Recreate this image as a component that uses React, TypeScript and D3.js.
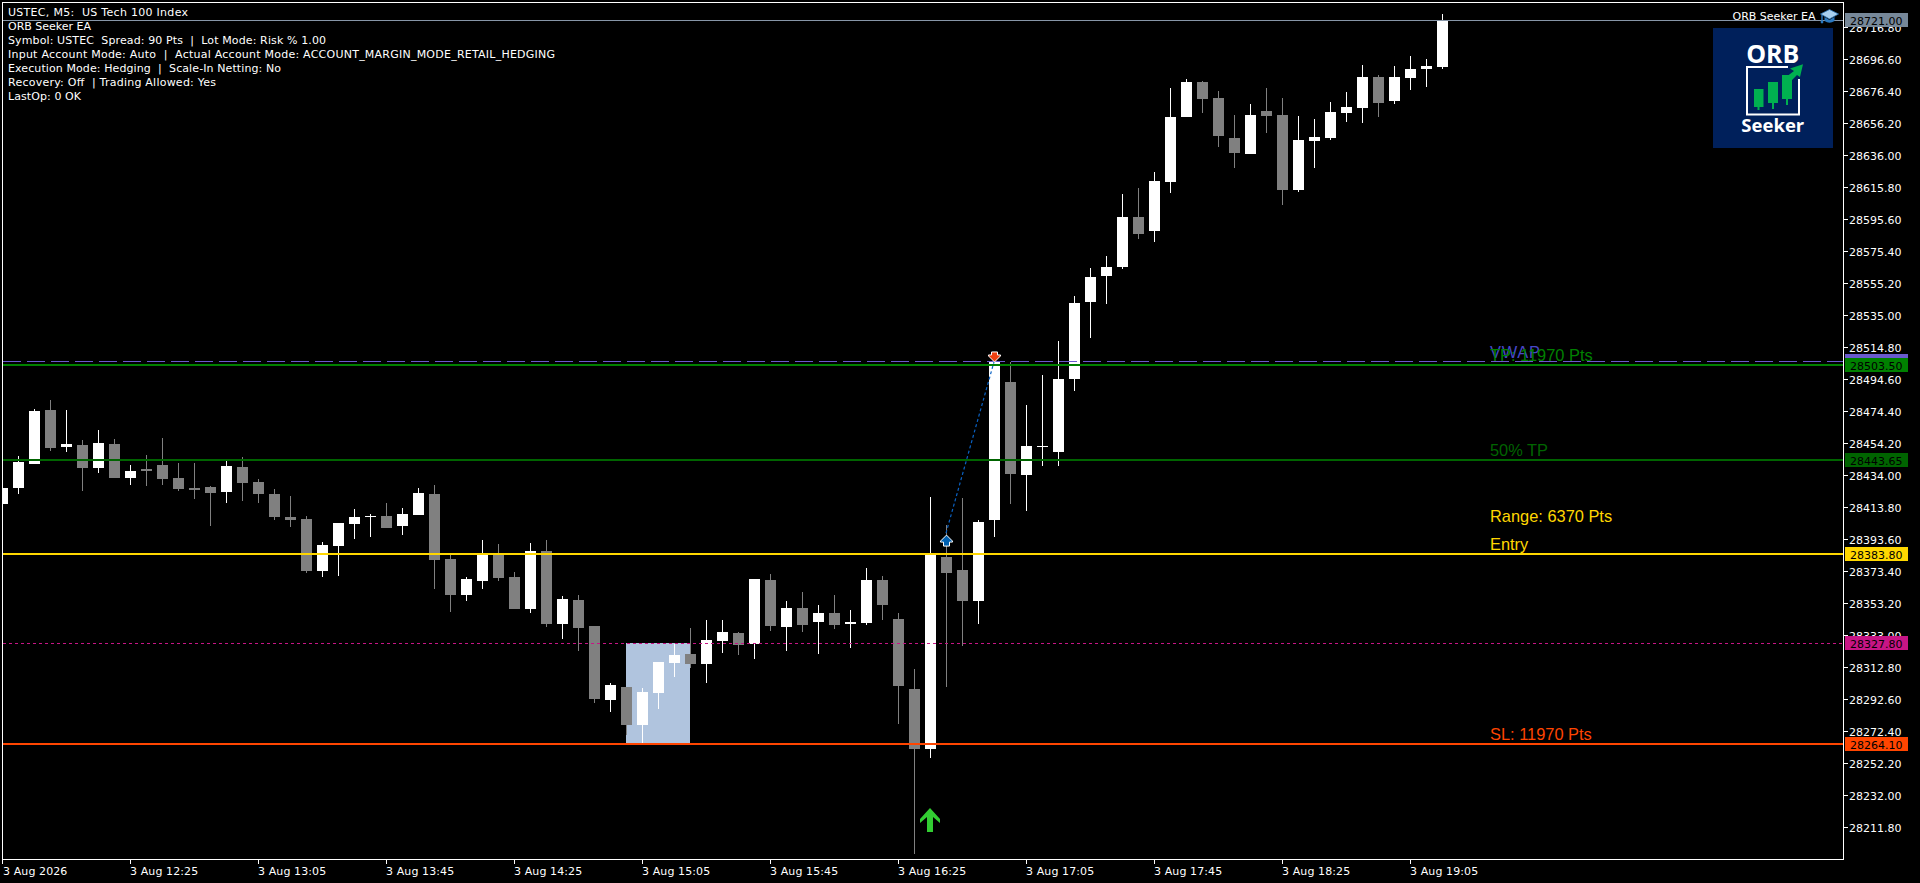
import React from "react";
import * as d3 from "d3";

const W = 1920, H = 883;
const opens = [28415.6,28425.7,28440.9,28475.0,28451.6,28452.9,28438.4,28453.5,28432.0,28437.7,28440.3,28432.0,28425.7,28426.4,28423.2,28439.0,28429.5,28421.9,28407.4,28406.2,28373.3,28389.1,28403.0,28407.4,28408.1,28401.7,28408.7,28421.9,28380.9,28358.2,28367.0,28384.7,28369.5,28349.3,28386.0,28339.9,28355.0,28338.6,28291.9,28300.1,28276.1,28296.3,28315.2,28320.9,28314.6,28329.1,28334.2,28327.2,28367.6,28338.0,28350.0,28341.1,28346.8,28339.9,28340.5,28367.6,28343.0,28298.8,28261.0,28382.2,28374.0,28354.4,28405.5,28492.6,28433.9,28451.6,28448.5,28494.5,28543.2,28559.6,28565.2,28596.8,28588.0,28618.9,28659.9,28682.0,28671.9,28646.7,28636.6,28663.7,28661.2,28613.9,28644.8,28646.7,28662.5,28665.6,28685.2,28670.0,28684.6,28690.2,28691.5];
const highs = [28425.7,28445.9,28475.6,28481.3,28475.0,28456.0,28462.3,28456.7,28440.3,28446.6,28457.3,28441.5,28441.5,28427.0,28442.8,28445.3,28431.4,28425.1,28420.7,28408.1,28391.6,28403.6,28412.5,28409.3,28416.3,28413.1,28425.7,28427.6,28383.4,28369.5,28392.9,28390.4,28372.7,28391.0,28392.9,28357.5,28358.2,28338.6,28302.6,28300.1,28299.5,28315.9,28327.2,28337.3,28342.4,28342.4,28334.8,28368.3,28371.4,28354.4,28360.1,28351.9,28358.2,28348.7,28375.2,28370.2,28346.8,28311.5,28420.0,28402.4,28419.4,28405.5,28505.3,28505.3,28478.1,28497.1,28518.5,28546.9,28564.6,28572.2,28611.3,28615.1,28625.2,28678.2,28683.9,28682.7,28676.3,28661.2,28668.1,28678.2,28671.9,28660.6,28658.7,28669.4,28675.7,28692.8,28686.5,28692.1,28698.4,28696.6,28725.0];
const lows = [28415.6,28421.9,28440.9,28449.1,28448.5,28423.8,28435.2,28432.0,28427.6,28427.0,28427.6,28423.8,28418.8,28401.7,28416.3,28417.5,28416.3,28405.5,28401.1,28372.1,28369.5,28370.2,28393.5,28394.8,28400.5,28396.1,28408.7,28362.0,28347.4,28354.4,28362.0,28367.0,28349.3,28346.8,28338.0,28330.4,28322.8,28290.0,28284.3,28269.8,28264.1,28286.2,28306.4,28312.1,28302.6,28321.6,28320.3,28317.8,28335.5,28322.8,28334.8,28320.9,28336.7,28324.7,28339.2,28342.4,28276.7,28194.7,28255.3,28300.1,28326.0,28339.9,28394.8,28415.6,28411.2,28439.6,28439.6,28487.0,28520.4,28541.9,28564.0,28582.9,28581.0,28612.0,28659.9,28662.5,28641.0,28627.7,28636.6,28649.8,28604.4,28612.6,28627.7,28645.4,28656.8,28656.2,28659.9,28668.1,28677.0,28678.9,28690.2];
const closes = [28425.7,28442.1,28474.3,28451.0,28453.5,28438.4,28454.1,28432.0,28436.5,28436.5,28431.4,28425.1,28424.5,28422.6,28439.6,28428.9,28421.9,28407.4,28405.5,28373.3,28389.7,28403.6,28407.4,28408.1,28400.5,28409.3,28422.6,28380.3,28358.2,28368.3,28384.7,28368.9,28349.3,28386.0,28339.9,28355.6,28337.3,28292.5,28301.4,28276.1,28296.9,28315.9,28320.3,28314.6,28329.8,28334.8,28326.6,28368.3,28338.6,28350.0,28339.2,28346.8,28339.2,28341.1,28367.6,28351.9,28300.7,28261.0,28384.7,28372.1,28354.4,28404.3,28505.3,28434.6,28452.2,28452.2,28494.5,28542.5,28558.9,28565.2,28596.8,28586.1,28619.5,28659.9,28682.0,28671.3,28647.9,28637.2,28661.2,28660.6,28613.9,28645.4,28647.3,28663.1,28666.3,28685.2,28668.8,28685.2,28690.2,28692.1,28721.0];

const priceTicks = [28211.8,28232.0,28252.2,28272.4,28292.6,28312.8,28333.0,28353.2,28373.4,28393.6,28413.8,28434.0,28454.2,28474.4,28494.6,28514.8,28535.0,28555.2,28575.4,28595.6,28615.8,28636.0,28656.2,28676.4,28696.6,28716.8];
const timeTickBars = [0,8,16,24,32,40,48,56,64,72,80,88];
const timeTickLabels = ["3 Aug 2026","3 Aug 12:25","3 Aug 13:05","3 Aug 13:45","3 Aug 14:25","3 Aug 15:05","3 Aug 15:45","3 Aug 16:25","3 Aug 17:05","3 Aug 17:45","3 Aug 18:25","3 Aug 19:05"];
const headerLine = "USTEC, M5:\u00a0\u00a0US Tech 100 Index";
const infoLines = [
  "ORB Seeker EA",
  "Symbol: USTEC\u00a0\u00a0Spread: 90 Pts\u00a0\u00a0|\u00a0\u00a0Lot Mode: Risk % 1.00",
  "Input Account Mode: Auto\u00a0\u00a0|\u00a0\u00a0Actual Account Mode: ACCOUNT_MARGIN_MODE_RETAIL_HEDGING",
  "Execution Mode: Hedging\u00a0\u00a0|\u00a0\u00a0Scale-In Netting: No",
  "Recovery: Off\u00a0\u00a0| Trading Allowed: Yes",
  "LastOp: 0 OK",
];
const infoWidths = [83, 318, 547, 273, 208, 73];
const askPrice = 28721.0;
const vwapPrice = 28505.7;
const tpPrice = 28503.5;
const halfTpPrice = 28443.65;
const entryPrice = 28383.8;
const midPrice = 28327.8;
const slPrice = 28264.1;
const rangeBars = [39, 43];
const arrowUpBar = 58, arrowUpPrice = 28223.7;
const tradeOpen = { bar: 59, price: 28396.0 };
const tradeClose = { bar: 62, price: 28505.3 };

const axisFont = "'DejaVu Sans', sans-serif";
const objFont = "'Liberation Sans', Arial, sans-serif";
const L = 3, R = 1843, T = 3, B = 859;

const y = d3.scaleLinear().domain([slPrice, askPrice]).range([744, 20.3]);
const x = d3.scaleLinear().domain([0, 90]).range([2, 1442]);
const ry = (p: number) => Math.round(y(p));

function PriceLabel({ price, bg, fg = "#000" }: { price: number; bg: string; fg?: string }) {
  const c = ry(price);
  return (
    <g>
      <rect x={1845} y={c - 7} width={63} height={14} fill={bg} shapeRendering="crispEdges" />
      <text x={1850} y={c + 4.5} fill={fg} fontFamily={axisFont} fontSize={11}>{price.toFixed(2)}</text>
    </g>
  );
}

export default function App() {
  const bars = d3.range(opens.length);
  return (
    <svg width={W} height={H} viewBox={`0 0 ${W} ${H}`} style={{ position: "absolute", left: 0, top: 0, background: "#000", display: "block" }}>
      <defs>
        <clipPath id="plot"><rect x={L} y={T} width={R - L} height={B - T} /></clipPath>
      </defs>
      <rect width={W} height={H} fill="#000" />
      <g clipPath="url(#plot)" shapeRendering="crispEdges">
        <rect x={x(rangeBars[0])} y={ry(midPrice)} width={x(rangeBars[1]) - x(rangeBars[0])} height={ry(slPrice) - ry(midPrice)} fill="#b0c4de" />
        {bars.map((i) => {
          const up = closes[i] >= opens[i];
          const color = up ? "#ffffff" : "#808080";
          const top = ry(Math.max(opens[i], closes[i]));
          const bot = ry(Math.min(opens[i], closes[i]));
          return (
            <g key={i}>
              <rect x={x(i)} y={ry(highs[i])} width={1} height={ry(lows[i]) - ry(highs[i])} fill={color} />
              <rect x={x(i) - 5} y={top} width={11} height={Math.max(1, bot - top)} fill={color} />
            </g>
          );
        })}
      </g>
      <g shapeRendering="crispEdges">
        <rect x={L} y={ry(askPrice)} width={R - L} height={1} fill="#8796a8" />
        <line x1={L} x2={R} y1={ry(vwapPrice) + 0.5} y2={ry(vwapPrice) + 0.5} stroke="#6a5acd" strokeDasharray="18 6" />
        <line x1={L} x2={R} y1={ry(midPrice) + 0.5} y2={ry(midPrice) + 0.5} stroke="#c71585" strokeDasharray="3 3" />
        <rect x={L} y={ry(tpPrice) - 1} width={R - L} height={2} fill="#008000" />
        <rect x={L} y={ry(halfTpPrice) - 1} width={R - L} height={2} fill="#006400" />
        <rect x={L} y={ry(entryPrice) - 1} width={R - L} height={2} fill="#ffd700" />
        <rect x={L} y={ry(slPrice) - 1} width={R - L} height={2} fill="#ff4500" />
      </g>

      <line x1={x(tradeOpen.bar)} y1={y(tradeOpen.price) - 2} x2={x(tradeClose.bar)} y2={y(tradeClose.price)} stroke="#0a62c4" strokeWidth={1.2} strokeDasharray="3 2.5" />
      <path transform={`translate(${x(tradeOpen.bar) + 0.5},${y(tradeOpen.price)})`} d="M0 0L6 6V7H3V11H-3V7H-6V6Z" fill="#0060b0" stroke="#fff" strokeWidth={1} />
      <path transform={`translate(${x(tradeClose.bar) + 0.5},${y(tradeClose.price)})`} d="M0 0L6 -6V-7H3V-10H-3V-7H-6V-6Z" fill="#f04010" stroke="#fff" strokeWidth={1} />
      <path transform={`translate(${x(arrowUpBar)},${y(arrowUpPrice)})`} d="M0 0L10 11V15L3 9V24H-3V9L-10 15V11Z" fill="#32cd32" />

      <g fontFamily={objFont} fontSize={16.4}>
        <text x={1490} y={357.5} fill="#4848c8" textLength={50} lengthAdjust="spacing">VWAP</text>
        <text x={1490} y={361} fill="#008000">TP: 11970 Pts</text>
        <text x={1490} y={456} fill="#006400">50% TP</text>
        <text x={1490} y={521.5} fill="#ffd700">Range: 6370 Pts</text>
        <text x={1490} y={550} fill="#ffd700">Entry</text>
        <text x={1490} y={740} fill="#ff4500">SL: 11970 Pts</text>
      </g>

      <g fontFamily={axisFont} fontSize={11} fill="#fff">
        <text x={8} y={16} textLength={180} lengthAdjust="spacing">{headerLine}</text>
        {infoLines.map((t, i) => <text key={t} x={8} y={30 + i * 14} textLength={infoWidths[i]} lengthAdjust="spacing">{t}</text>)}
        <text x={1732.5} y={20} textLength={83} lengthAdjust="spacing">ORB Seeker EA</text>
      </g>

      <g transform="translate(1820.5,9)">
        <rect x={0.8} y={5} width={1.4} height={8} fill="#2a78c0" />
        <circle cx={1.5} cy={13} r={1.4} fill="#2a78c0" />
        <path d="M4 8V12Q9 15.500 14 12V8L9 11Z" fill="#2a78c0" />
        <path d="M9 0.500L18 5L9 10L0 5Z" fill="#a8d0f0" stroke="#2a70b0" strokeWidth={0.8} />
      </g>

      <g>
        <rect x={1713} y={28} width={120} height={120} fill="#00205b" />
        <text x={1772.800} y={63} textAnchor="middle" fill="#fff" fontFamily="'Open Sans', sans-serif" fontWeight={700} fontSize={25}>ORB</text>
        <path d="M1788 67H1747V114.500H1799V79" fill="none" stroke="#fff" strokeWidth={2} />
        <g fill="#00b050">
          <rect x={1754} y={89} width={9.500} height={18} />
          <rect x={1757.500} y={105} width={2} height={5} />
          <rect x={1768} y={82} width={10} height={21} />
          <rect x={1772} y={101} width={2} height={8} />
          <rect x={1782} y={75} width={10} height={24} />
          <rect x={1786} y={97} width={2} height={8} />
          <path d="M1803 64.300L1790 68.500L1794 71L1786 77L1791 81L1797 75L1800 77Z" />
        </g>
        <text x={1772.800} y={131.700} textAnchor="middle" fill="#fff" fontFamily="'Open Sans', sans-serif" fontWeight={700} fontSize={18.500}>Seeker</text>
      </g>

      <g shapeRendering="crispEdges" fill="none" stroke="#fff">
        <path d={`M2.5 864V2.5H${R + 0.5}V${B + 0.5}H2.5`} />
      </g>

      <g fontFamily={axisFont} fontSize={11} fill="#fff">
        {priceTicks.map((p) => (
          <g key={p}>
            <rect x={1844} y={ry(p)} width={4} height={1} shapeRendering="crispEdges" />
            <text x={1849} y={ry(p) + 4.5}>{p.toFixed(2)}</text>
          </g>
        ))}
        {timeTickBars.map((b, i) => (
          <g key={b}>
            {i > 0 && <rect x={x(b)} y={860} width={1} height={4} shapeRendering="crispEdges" />}
            <text x={i === 0 ? 3 : x(b)} y={875} letterSpacing={0.1}>{timeTickLabels[i]}</text>
          </g>
        ))}
      </g>

      <PriceLabel price={askPrice} bg="#778899" />
      <PriceLabel price={vwapPrice} bg="#6a5acd" />
      <PriceLabel price={tpPrice} bg="#008000" />
      <PriceLabel price={halfTpPrice} bg="#006400" />
      <PriceLabel price={entryPrice} bg="#ffd700" />
      <PriceLabel price={midPrice} bg="#c71585" />
      <PriceLabel price={slPrice} bg="#ff4500" />
    </svg>
  );
}
